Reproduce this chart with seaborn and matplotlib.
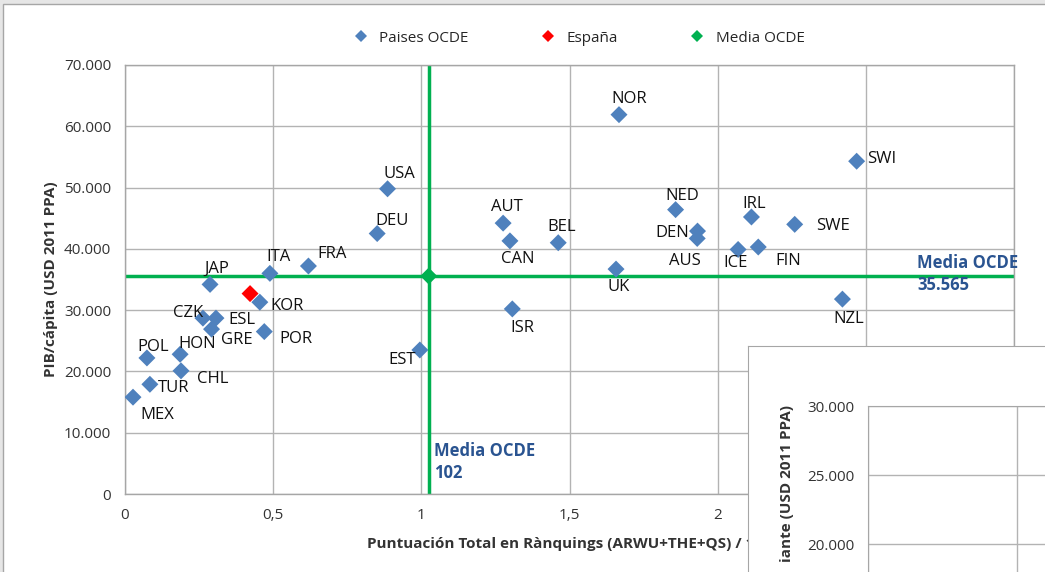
import numpy as np
import pandas as pd
import matplotlib
matplotlib.use("Agg")
import matplotlib.pyplot as plt
import seaborn as sns
from matplotlib.patches import Rectangle

# datos: puntuación total en rànquings / 100 y PIB per cápita
paises = ["MEX", "TUR", "POL", "HON", "CHL", "CZK", "ESL", "GRE", "KOR", "POR",
          "EST", "ISR", "JAP", "ITA", "FRA", "DEU", "USA", "AUT", "CAN", "NOR",
          "SWI", "BEL", "UK", "NED", "DEN", "AUS", "IRL", "SWE", "ICE", "FIN", "NZL"]
puntuacion = [0.027, 0.084, 0.074, 0.186, 0.189, 0.263, 0.307, 0.292, 0.455, 0.470,
              0.995, 1.307, 0.287, 0.489, 0.619, 0.851, 0.886, 1.276, 1.299, 1.667,
              2.469, 1.462, 1.657, 1.858, 1.932, 1.931, 2.114, 2.260, 2.069, 2.137, 2.421]
pib = [15800, 17900, 22200, 22800, 20100, 28700, 28700, 26900, 31300, 26500,
       23500, 30200, 34200, 36000, 37200, 42500, 49800, 44200, 41300, 61900,
       54300, 41000, 36700, 46400, 42900, 41700, 45200, 44000, 39900, 40300, 31800]
espana_x = [0.422]
espana_y = [32700]
media_x = 1.025
media_y = 35565

# desplazamiento de las etiquetas (pixeles)
offsets = {
    "MEX": (24, -18), "TUR": (24, -4), "POL": (6, 11), "HON": (17, 10), "CHL": (32, -8),
    "CZK": (-15, 5), "ESL": (26, -2), "GRE": (25, -11), "KOR": (27, -4), "POR": (32, -7),
    "EST": (-18, -10), "ISR": (10, -19), "JAP": (7, 16), "ITA": (9, 16), "FRA": (24, 12),
    "DEU": (15, 13), "USA": (12, 15), "AUT": (4, 16), "CAN": (8, -18), "NOR": (10, 16),
    "SWI": (25, 2), "BEL": (3, 16), "UK": (3, -18), "NED": (7, 14), "DEN": (-25, -2),
    "AUS": (-12, -23), "IRL": (3, 13), "SWE": (38, -2), "ICE": (-3, -14), "FIN": (30, -14),
    "NZL": (6, -20),
}

azul = "#4f81bd"
rojo = "#ff0000"
verde = "#00b050"
azul_txt = "#2a5491"
gris = "#a6a6a6"

sns.set_style("white")
plt.rcParams["font.family"] = ["Open Sans", "DejaVu Sans"]

df = pd.concat([
    pd.DataFrame({"x": puntuacion, "y": pib, "grupo": "Paises OCDE"}),
    pd.DataFrame({"x": espana_x, "y": espana_y, "grupo": "España"}),
    pd.DataFrame({"x": [media_x], "y": [media_y], "grupo": "Media OCDE"}),
], ignore_index=True)

W, H = 1045, 572
fig = plt.figure(figsize=(W / 100, H / 100), dpi=100)
fig.patch.set_facecolor("#e6e6e6")
fig.patches.append(Rectangle((3 / W, -0.1), 1.1, (H - 4) / H + 0.1, transform=fig.transFigure,
                             facecolor="white", edgecolor=gris, lw=1, zorder=-10))

ax = fig.add_axes([125 / W, 1 - 494 / H, (1014 - 125) / W, (494 - 65) / H])
ax.set_facecolor("none")

# lineas de la media
ax.axvline(media_x, color=verde, lw=2.5, zorder=2)
ax.axhline(media_y, color=verde, lw=2.5, zorder=2)

sns.scatterplot(data=df, x="x", y="y", hue="grupo", marker="D", s=75,
                palette={"Paises OCDE": azul, "España": rojo, "Media OCDE": verde},
                edgecolor="none", linewidth=0, ax=ax, zorder=3)

for p, xv, yv in zip(paises, puntuacion, pib):
    dx, dy = offsets[p]
    ax.annotate(p, (xv, yv), xytext=(dx, dy), textcoords="offset pixels",
                ha="center", va="center", fontsize=12, color="#111111")

ax.set_xlim(0, 3)
ax.set_ylim(0, 70000)
ax.set_xticks(np.arange(0, 3.01, 0.5))
ax.set_xticklabels(["{:g}".format(v).replace(".", ",") for v in np.arange(0, 3.01, 0.5)])
ax.set_yticks(np.arange(0, 70001, 10000))
ax.set_yticklabels(["{:,}".format(int(v)).replace(",", ".") for v in np.arange(0, 70001, 10000)])
ax.set_xticks(np.arange(0, 3.01, 0.1), minor=True)
ax.set_yticks(np.arange(0, 70001, 2000), minor=True)
ax.grid(True, which="major", color="#b3b3b3", lw=1, zorder=0)
ax.set_axisbelow(True)
ax.tick_params(which="major", length=0, labelsize=11, labelcolor="#333333", pad=10)
ax.tick_params(which="minor", direction="in", length=5, color=gris, width=1)
for s in ax.spines.values():
    s.set_color(gris)
    s.set_linewidth(1)

ax.set_xlabel("Puntuación Total en Rànquings (ARWU+THE+QS) / 100", fontsize=11,
              fontweight="bold", color="#333333", labelpad=10)
ax.set_ylabel("PIB/cápita (USD 2011 PPA)", fontsize=11, fontweight="bold",
              color="#333333", labelpad=4)

ax.annotate("Media OCDE\n{:,}".format(media_y).replace(",", "."), xy=(1, media_y),
            xycoords=("axes fraction", "data"), xytext=(-97, 22), textcoords="offset pixels",
            ha="left", va="top", fontsize=12, fontweight="bold", color=azul_txt,
            linespacing=1.3)
ax.annotate("Media OCDE\n{:g}".format(round(media_x * 100)), xy=(media_x, 0),
            xytext=(5, 52), textcoords="offset pixels", ha="left", va="top",
            fontsize=12, fontweight="bold", color=azul_txt, linespacing=1.3)

sns.move_legend(ax, "center", bbox_to_anchor=(575 / W, 1 - 38 / H),
                bbox_transform=fig.transFigure, ncol=3, frameon=False, title=None,
                fontsize=11, columnspacing=4.2, handletextpad=0.2, markerscale=0.7)

# grafico superpuesto (recorte de otra figura)
ax2 = fig.add_axes([748 / W, 0, 1 - 748 / W, (H - 346) / H])
ax2.set_zorder(5)
ax2.set_facecolor("white")
ax2.set_xticks([])
ax2.set_yticks([])
for k, s in ax2.spines.items():
    s.set_visible(k in ("top", "left"))
    s.set_color(gris)
ax2.text(787 / W, 1 - 405 / H, "iante (USD 2011 PPA)", transform=fig.transFigure,
         rotation=90, ha="center", va="top", fontsize=11, fontweight="bold", color="#333333")

ax3 = fig.add_axes([868 / W, 0, (W - 868) / W + 0.01, (H - 406) / H])
ax3.set_zorder(6)
ax3.set_facecolor("none")
ax3.set_ylim(18227, 30000)
ax3.set_xlim(0, (W - 868 + 10) / 296.4)
ax3.set_yticks([20000, 25000, 30000])
ax3.set_yticklabels(["20.000", "25.000", "30.000"])
ax3.set_yticks(np.arange(18000, 30001, 1000), minor=True)
ax3.set_xticks([0, 0.5])
ax3.set_xticklabels([])
ax3.grid(True, which="major", color="#b3b3b3", lw=1)
ax3.tick_params(which="major", length=0, labelsize=11, labelcolor="#333333", pad=10)
ax3.tick_params(which="minor", direction="in", length=5, color=gris)
for k, s in ax3.spines.items():
    s.set_visible(k in ("top", "left"))
    s.set_color(gris)

fig.savefig("out.png", dpi=100, facecolor=fig.get_facecolor())
